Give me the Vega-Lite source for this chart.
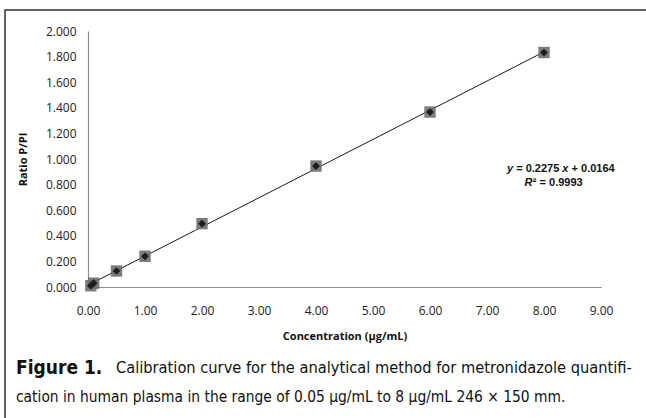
{
  "$schema": "https://vega.github.io/schema/vega-lite/v6.json",
  "width": 513,
  "height": 256,
  "autosize": {"type": "none"},
  "padding": {"left": 88, "top": 31, "right": 45, "bottom": 131},
  "background": "white",
  "config": {
    "view": {"stroke": null},
    "axis": {"grid": false, "ticks": false, "labelOverlap": false, "labelFlush": false, "labelBound": false, "domainColor": "#8c8c8c", "domainWidth": 1.2, "labelFont": "Open Sans", "labelFontSize": 12, "labelColor": "#222", "titleFont": "Open Sans", "titleFontSize": 11, "titleFontWeight": "bold", "titleColor": "#111"}
  },
  "datasets": {
    "points": [
      {"conc": 0.05, "ratio": 0.01},
      {"conc": 0.1, "ratio": 0.03},
      {"conc": 0.5, "ratio": 0.125},
      {"conc": 1, "ratio": 0.24},
      {"conc": 2, "ratio": 0.495},
      {"conc": 4, "ratio": 0.945},
      {"conc": 6, "ratio": 1.367},
      {"conc": 8, "ratio": 1.832}
    ],
    "frame": [{"x0": -1.456, "x1": 9.95, "y0": -1.15, "y1": 2.164}],
    "eq": [{"conc": 7.35, "ratio": 0.922, "a": "y", "b": "= 0.2275", "c": "x", "d": "+ 0.0164"}],
    "r2": [{"conc": 7.66, "ratio": 0.8125, "a": "R", "b": "² = 0.9993"}],
    "caption": [{"conc": -1.263, "conc2": 0.49, "ratio": -0.633, "ratio2": -0.859, "fig": "Figure 1.", "l1": "Calibration curve for the analytical method for metronidazole quantifi-", "l2": "cation in human plasma in the range of 0.05 µg/mL to 8 µg/mL 246 × 150 mm."}]
  },
  "layer": [
    {
      "data": {"name": "frame"},
      "mark": {"type": "rect", "fill": "transparent", "stroke": "#333", "strokeWidth": 1.5},
      "encoding": {
        "x": {"field": "x0", "type": "quantitative", "scale": {"domain": [0, 9], "nice": false}},
        "x2": {"field": "x1"},
        "y": {"field": "y0", "type": "quantitative", "scale": {"domain": [0, 2], "nice": false}},
        "y2": {"field": "y1"}
      }
    },
    {
      "data": {"name": "points"},
      "transform": [{"regression": "ratio", "on": "conc", "extent": [0.05, 8]}],
      "mark": {"type": "line", "color": "#1a1a1a", "strokeWidth": 1},
      "encoding": {
        "x": {"field": "conc", "type": "quantitative"},
        "y": {"field": "ratio", "type": "quantitative"}
      }
    },
    {
      "data": {"name": "points"},
      "mark": {"type": "point", "shape": "square", "filled": true, "color": "#6e6e6e", "opacity": 0.9, "size": 130},
      "encoding": {
        "x": {"field": "conc", "type": "quantitative", "title": "Concentration (µg/mL)", "scale": {"domain": [0, 9], "nice": false},
          "axis": {"values": [0, 1, 2, 3, 4, 5, 6, 7, 8, 9], "tickCount": 10, "format": ".2f", "labelPadding": 18, "titlePadding": 14, "labelOverlap": false}},
        "y": {"field": "ratio", "type": "quantitative", "title": "Ratio P/PI", "scale": {"domain": [0, 2], "nice": false},
          "axis": {"values": [0, 0.2, 0.4, 0.6, 0.8, 1, 1.2, 1.4, 1.6, 1.8, 2], "tickCount": 11, "format": ".3f", "labelPadding": 12, "titlePadding": 17, "labelOverlap": false}}
      }
    },
    {
      "data": {"name": "points"},
      "mark": {"type": "point", "shape": "diamond", "filled": true, "color": "#1c1c1c", "opacity": 1, "size": 60},
      "encoding": {
        "x": {"field": "conc", "type": "quantitative"},
        "y": {"field": "ratio", "type": "quantitative"}
      }
    },
    {
      "data": {"name": "eq"},
      "mark": {"type": "text", "font": "Liberation Sans", "fontSize": 11, "fontWeight": "bold", "fontStyle": "italic", "color": "#111", "align": "left", "baseline": "middle"},
      "encoding": {"x": {"field": "conc", "type": "quantitative"}, "y": {"field": "ratio", "type": "quantitative"}, "text": {"field": "a"}}
    },
    {
      "data": {"name": "eq"},
      "mark": {"type": "text", "font": "Liberation Sans", "fontSize": 11, "fontWeight": "bold", "color": "#111", "align": "left", "baseline": "middle", "dx": 9.2},
      "encoding": {"x": {"field": "conc", "type": "quantitative"}, "y": {"field": "ratio", "type": "quantitative"}, "text": {"field": "b"}}
    },
    {
      "data": {"name": "eq"},
      "mark": {"type": "text", "font": "Liberation Sans", "fontSize": 11, "fontWeight": "bold", "fontStyle": "italic", "color": "#111", "align": "left", "baseline": "middle", "dx": 55.4},
      "encoding": {"x": {"field": "conc", "type": "quantitative"}, "y": {"field": "ratio", "type": "quantitative"}, "text": {"field": "c"}}
    },
    {
      "data": {"name": "eq"},
      "mark": {"type": "text", "font": "Liberation Sans", "fontSize": 11, "fontWeight": "bold", "color": "#111", "align": "left", "baseline": "middle", "dx": 64.6},
      "encoding": {"x": {"field": "conc", "type": "quantitative"}, "y": {"field": "ratio", "type": "quantitative"}, "text": {"field": "d"}}
    },
    {
      "data": {"name": "r2"},
      "mark": {"type": "text", "font": "Liberation Sans", "fontSize": 11, "fontWeight": "bold", "fontStyle": "italic", "color": "#111", "align": "left", "baseline": "middle"},
      "encoding": {"x": {"field": "conc", "type": "quantitative"}, "y": {"field": "ratio", "type": "quantitative"}, "text": {"field": "a"}}
    },
    {
      "data": {"name": "r2"},
      "mark": {"type": "text", "font": "Liberation Sans", "fontSize": 11, "fontWeight": "bold", "color": "#111", "align": "left", "baseline": "middle", "dx": 8.2},
      "encoding": {"x": {"field": "conc", "type": "quantitative"}, "y": {"field": "ratio", "type": "quantitative"}, "text": {"field": "b"}}
    },
    {
      "data": {"name": "caption"},
      "mark": {"type": "text", "font": "Liberation Sans Narrow, DejaVu Sans Condensed, sans-serif", "fontSize": 19, "fontWeight": "bold", "color": "#111", "align": "left", "baseline": "middle"},
      "encoding": {"x": {"field": "conc", "type": "quantitative"}, "y": {"field": "ratio", "type": "quantitative"}, "text": {"field": "fig"}}
    },
    {
      "data": {"name": "caption"},
      "mark": {"type": "text", "font": "Liberation Sans Narrow, DejaVu Sans Condensed, sans-serif", "fontSize": 16.3, "color": "#111", "align": "left", "baseline": "middle"},
      "encoding": {"x": {"field": "conc2", "type": "quantitative"}, "y": {"field": "ratio", "type": "quantitative"}, "text": {"field": "l1"}}
    },
    {
      "data": {"name": "caption"},
      "mark": {"type": "text", "font": "Liberation Sans Narrow, DejaVu Sans Condensed, sans-serif", "fontSize": 15.4, "color": "#111", "align": "left", "baseline": "middle"},
      "encoding": {"x": {"field": "conc", "type": "quantitative"}, "y": {"field": "ratio2", "type": "quantitative"}, "text": {"field": "l2"}}
    }
  ]
}
